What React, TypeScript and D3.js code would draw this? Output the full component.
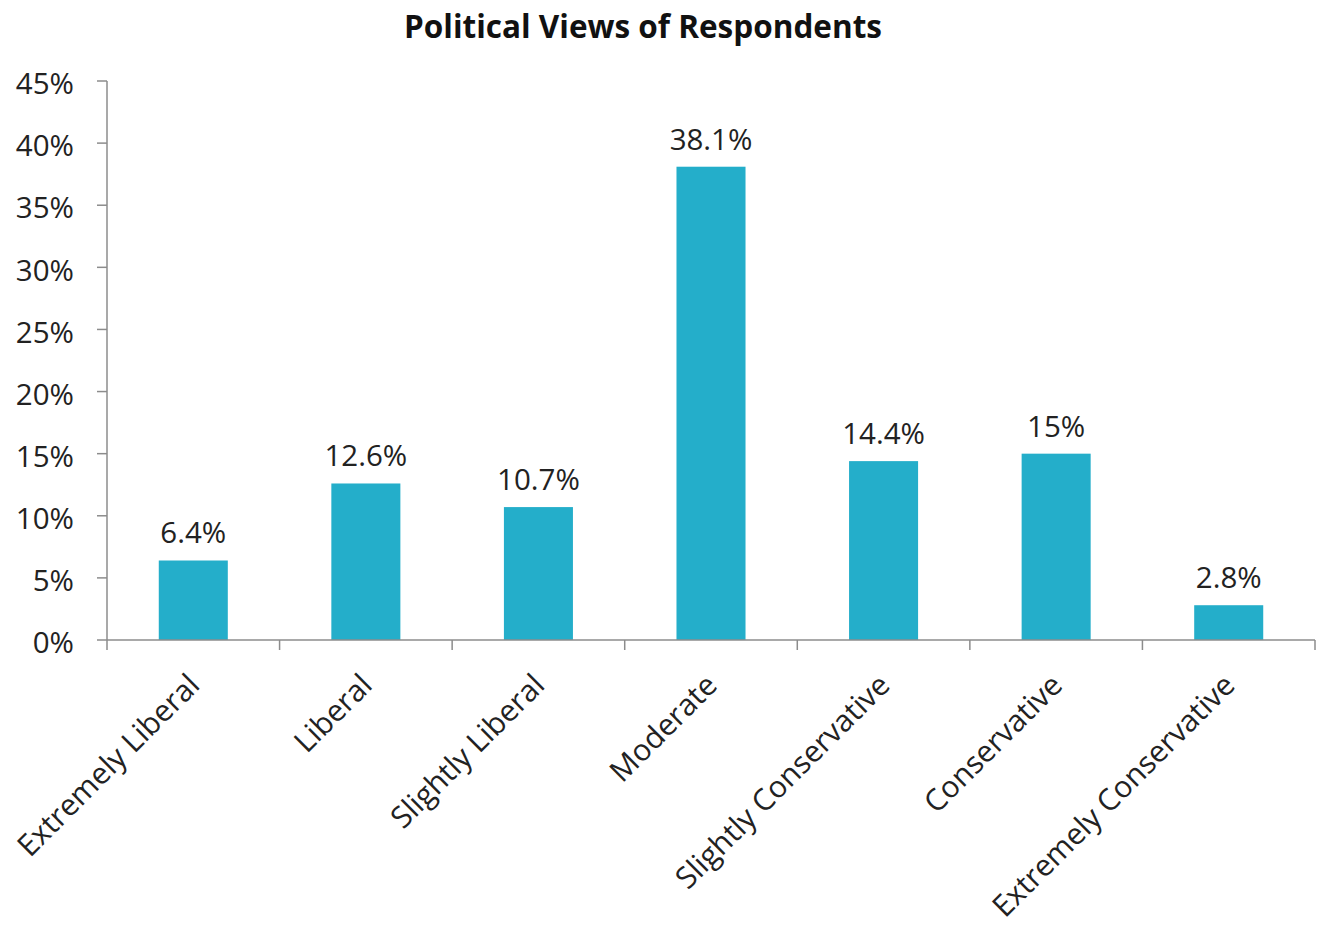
import React from "react";
import * as d3 from "d3";

const title = "Political Views of Respondents";
const categories = [
  "Extremely Liberal",
  "Liberal",
  "Slightly Liberal",
  "Moderate",
  "Slightly Conservative",
  "Conservative",
  "Extremely Conservative",
];
const values = [6.4, 12.6, 10.7, 38.1, 14.4, 15, 2.8];
const valueLabels = ["6.4%", "12.6%", "10.7%", "38.1%", "14.4%", "15%", "2.8%"];
const yTicks = [0, 5, 10, 15, 20, 25, 30, 35, 40, 45];

const W = 1324;
const H = 926;
const FONT = "'Open Sans', 'Noto Sans', sans-serif";
const BAR = "#24AECA";
const AXIS = "#8c8c8c";

export default function App() {
  const x = d3
    .scaleBand<string>()
    .domain(categories)
    .range([107, 1315])
    .paddingInner(0.6)
    .paddingOuter(0.3);
  const y = d3.scaleLinear().domain([0, 45]).range([640, 81]);
  const step = x.step();
  const x0 = 107;

  return (
    <svg
      width={W}
      height={H}
      style={{ position: "absolute", left: 0, top: 0, background: "#fff" }}
      fontFamily={FONT}
    >
      <text
        x={643}
        y={38}
        textAnchor="middle"
        fontWeight="bold"
        fontSize={31.5}
        fill="#111"
      >
        {title}
      </text>

      {/* y axis */}
      <line x1={x0} x2={x0} y1={y(45)} y2={y(0)} stroke={AXIS} strokeWidth={1.5} />
      {yTicks.map((t) => (
        <g key={t}>
          <line x1={x0 - 10} x2={x0} y1={y(t)} y2={y(t)} stroke={AXIS} strokeWidth={1.5} />
          <text
            x={74}
            y={y(t)}
            dy="0.45em"
            textAnchor="end"
            fontSize={29.5}
            fill="#222"
          >
            {t}%
          </text>
        </g>
      ))}

      {/* bars */}
      {categories.map((c, i) => (
        <rect
          key={c}
          x={x(c)!}
          y={y(values[i])}
          width={x.bandwidth()}
          height={y(0) - y(values[i])}
          fill={BAR}
        />
      ))}

      {/* value labels */}
      {categories.map((c, i) => (
        <text
          key={c}
          x={x(c)! + x.bandwidth() / 2}
          y={y(values[i]) - 17}
          textAnchor="middle"
          fontSize={29.5}
          fill="#222"
        >
          {valueLabels[i]}
        </text>
      ))}

      {/* x axis */}
      <line x1={x0} x2={1315} y1={y(0)} y2={y(0)} stroke={AXIS} strokeWidth={1.5} />
      {d3.range(categories.length + 1).map((k) => (
        <line
          key={k}
          x1={x0 + k * step}
          x2={x0 + k * step}
          y1={y(0)}
          y2={y(0) + 10}
          stroke={AXIS}
          strokeWidth={1.5}
        />
      ))}
      {categories.map((c) => {
        const cx = x(c)! + x.bandwidth() / 2;
        return (
          <text
            key={c}
            transform={`translate(${cx + 8},${y(0) + 47}) rotate(-45)`}
            textAnchor="end"
            fontSize={30}
            fill="#222"
          >
            {c}
          </text>
        );
      })}
    </svg>
  );
}
